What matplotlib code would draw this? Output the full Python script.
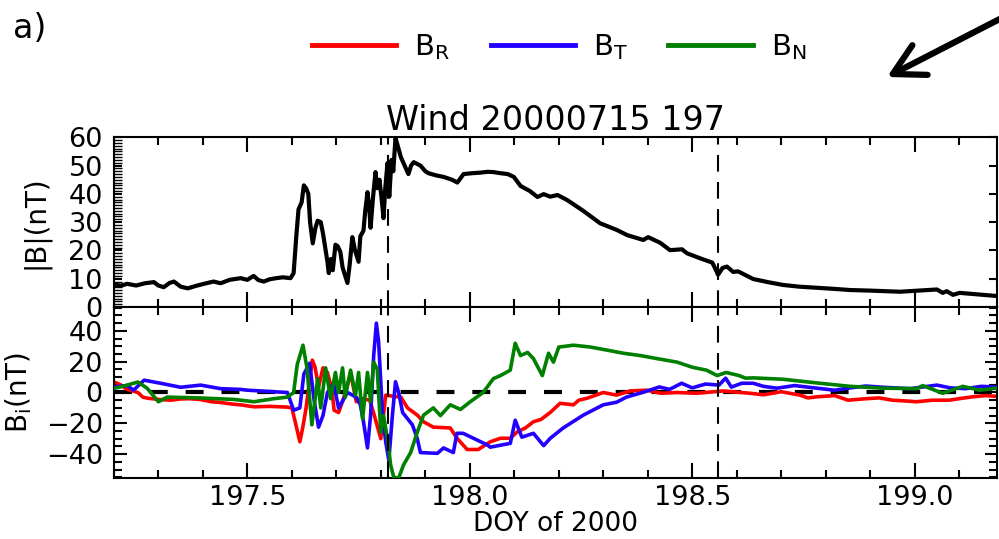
import matplotlib
matplotlib.use("Agg")
import matplotlib.pyplot as plt
from matplotlib.ticker import MultipleLocator
from matplotlib.lines import Line2D
from matplotlib.patches import FancyArrowPatch

plt.rcParams['font.family'] = ['DejaVu Sans']
plt.rcParams['mathtext.fontset'] = 'dejavusans'
plt.rcParams['mathtext.default'] = 'regular'

# |B| (DOY, nT)
t_b = [197.200, 197.215, 197.230, 197.250, 197.270, 197.290, 197.300, 197.312, 197.325, 197.335,
       197.350, 197.366, 197.385, 197.405, 197.424, 197.440, 197.460, 197.485, 197.500, 197.514,
       197.525, 197.537, 197.550, 197.565, 197.580, 197.597, 197.604, 197.610, 197.615, 197.622,
       197.627, 197.632, 197.637, 197.641, 197.647, 197.653, 197.658, 197.665, 197.670, 197.676,
       197.680, 197.683, 197.688, 197.692, 197.698, 197.703, 197.709, 197.714, 197.720, 197.725,
       197.730, 197.736, 197.742, 197.750, 197.754, 197.761, 197.765, 197.770, 197.774, 197.777,
       197.782, 197.788, 197.792, 197.797, 197.802, 197.806, 197.810, 197.815, 197.819, 197.824,
       197.828, 197.833, 197.838, 197.845, 197.855, 197.862, 197.868, 197.874, 197.889, 197.900,
       197.907, 197.925, 197.941, 197.960, 197.972, 197.986, 198.005, 198.024, 198.040, 198.053,
       198.069, 198.085, 198.099, 198.114, 198.135, 198.152, 198.166, 198.181, 198.197, 198.219,
       198.255, 198.293, 198.331, 198.354, 198.390, 198.401, 198.428, 198.450, 198.477, 198.488,
       198.518, 198.545, 198.552, 198.558, 198.568, 198.578, 198.592, 198.603, 198.637, 198.670,
       198.704, 198.740, 198.780, 198.820, 198.855, 198.900, 198.967, 199.010, 199.050, 199.063,
       199.072, 199.086, 199.101, 199.140, 199.184]
b_mag = [8.0, 7.5, 8.2, 7.6, 8.4, 8.8, 7.6, 7.0, 8.5, 9.0,
         7.2, 6.6, 7.5, 8.3, 9.0, 8.4, 9.6, 10.2, 9.6, 11.0,
         9.5, 9.0, 9.8, 10.2, 10.5, 10.2, 12.0, 25.0, 34.5, 37.0,
         43.0, 42.0, 40.0, 30.0, 22.5, 28.0, 30.5, 30.0, 26.0, 20.0,
         16.0, 12.0, 17.0, 13.0, 22.0, 21.5, 19.5, 14.0, 11.0, 8.5,
         15.0, 24.7, 20.0, 16.0, 25.0, 27.0, 34.0, 40.6, 35.0, 28.0,
         38.0, 47.7, 42.0, 45.0, 38.0, 31.4, 42.0, 50.9, 39.0, 52.0,
         48.0, 59.7, 57.0, 53.0, 49.5, 47.0, 50.0, 51.2, 50.0, 48.0,
         47.3, 46.5, 46.0, 45.0, 44.0, 47.0, 47.3, 47.5, 47.8, 47.7,
         47.3, 47.0, 46.0, 42.8, 41.0, 38.9, 39.9, 39.0, 39.6, 37.8,
         34.0, 29.6, 27.2, 25.4, 23.7, 24.7, 22.7, 20.1, 20.4, 19.0,
         17.2, 15.7, 13.5, 11.4, 13.8, 14.3, 12.4, 12.6, 9.9, 8.8,
         7.8, 7.2, 6.8, 6.4, 6.0, 5.8, 5.4, 5.8, 6.2, 5.0,
         5.6, 4.3, 5.0, 4.5, 3.9]

# B_R (red)
t_r = [197.200, 197.215, 197.230, 197.254, 197.265, 197.276, 197.300, 197.328, 197.350, 197.370,
       197.393, 197.420, 197.440, 197.465, 197.485, 197.515, 197.550, 197.590, 197.600, 197.610,
       197.618, 197.625, 197.632, 197.640, 197.646, 197.652, 197.660, 197.670, 197.680, 197.690,
       197.695, 197.705, 197.715, 197.725, 197.732, 197.745, 197.758, 197.775, 197.784, 197.800,
       197.811, 197.829, 197.845, 197.860, 197.882, 197.896, 197.918, 197.956, 197.971, 197.994,
       198.019, 198.046, 198.069, 198.091, 198.106, 198.125, 198.143, 198.160, 198.181, 198.203,
       198.233, 198.245, 198.264, 198.300, 198.330, 198.360, 198.398, 198.430, 198.466, 198.510,
       198.569, 198.630, 198.660, 198.700, 198.742, 198.760, 198.780, 198.820, 198.850, 198.892,
       198.920, 198.950, 198.980, 199.004, 199.040, 199.078, 199.100, 199.130, 199.160, 199.184]
b_r = [6.9, 5.0, 2.0, 0.0, -3.0, -3.7, -4.5, -5.0, -4.2, -4.0,
       -4.5, -6.0, -6.5, -7.5, -8.0, -9.3, -9.0, -9.5, -10.0, -22.0,
       -32.0, -22.0, -10.0, 8.0, 21.0, 16.6, 3.6, 16.0, 13.0, 2.0,
       -11.5, -13.0, -5.0, 5.0, 12.5, -6.0, -4.0, -5.0, -13.5, -30.0,
       -1.7, -2.5, -3.0, -10.0, -14.7, -19.0, -22.5, -23.0, -29.6, -37.0,
       -37.0, -32.0, -29.7, -29.7, -25.7, -23.0, -19.0, -17.5, -12.9, -7.0,
       -8.0, -5.0, -3.7, 0.0, -1.7, 1.0, 1.5, -0.5, 0.0, -0.5,
       1.0, -0.5, -1.5, 0.5, -1.7, -3.5, -2.8, -2.0, -5.0, -4.0,
       -3.5, -5.0, -5.5, -6.0, -5.0, -5.0, -4.0, -2.8, -2.0, -2.5]

# B_T (blue)
t_t = [197.200, 197.230, 197.244, 197.268, 197.305, 197.350, 197.395, 197.440, 197.485, 197.500,
       197.560, 197.590, 197.604, 197.618, 197.627, 197.640, 197.650, 197.660, 197.670, 197.680,
       197.694, 197.705, 197.725, 197.745, 197.754, 197.761, 197.770, 197.777, 197.784, 197.790,
       197.795, 197.804, 197.811, 197.818, 197.826, 197.833, 197.840, 197.849, 197.860, 197.871,
       197.882, 197.889, 197.927, 197.941, 197.963, 197.971, 197.985, 198.008, 198.039, 198.046,
       198.091, 198.102, 198.117, 198.143, 198.166, 198.181, 198.210, 198.255, 198.300, 198.330,
       198.352, 198.388, 198.426, 198.449, 198.476, 198.500, 198.530, 198.560, 198.575, 198.588,
       198.611, 198.637, 198.660, 198.690, 198.730, 198.780, 198.820, 198.855, 198.890, 198.929,
       198.990, 199.050, 199.080, 199.115, 199.150, 199.184]
b_t = [3.6, 4.5, 1.5, 8.0, 6.0, 3.4, 4.8, 2.5, 2.0, 1.5,
       0.5, 0.0, -11.5, -10.0, 12.0, 19.0, -5.0, -22.5, -15.0, 0.0,
       6.0, -10.0, 0.0, -3.0, -8.0, -19.0, -36.0, -15.0, 24.0, 45.0,
       33.0, -15.0, -32.0, -44.0, -15.0, 7.0, 0.0, -13.0, -17.0, -21.0,
       -30.0, -39.0, -39.5, -36.0, -39.0, -26.5, -26.5, -29.7, -34.0, -35.5,
       -33.0, -18.0, -29.0, -26.5, -34.5, -29.7, -23.0, -14.7, -8.0, -6.3,
       -3.0, 0.0, 3.6, 2.0, 6.0, 3.0, 5.5, 4.8, 9.3, 3.5,
       6.0, 6.0, 4.0, 2.8, 4.5, 2.8, 1.5, 3.0, 4.2, 3.4,
       2.5, 4.8, 3.0, 2.5, 4.0, 3.5]

# B_N (green)
t_n = [197.200, 197.220, 197.254, 197.275, 197.300, 197.320, 197.390, 197.470, 197.515, 197.560,
       197.590, 197.604, 197.612, 197.625, 197.634, 197.645, 197.658, 197.665, 197.676, 197.687,
       197.698, 197.705, 197.714, 197.720, 197.732, 197.743, 197.750, 197.759, 197.770, 197.777,
       197.784, 197.792, 197.800, 197.806, 197.815, 197.822, 197.829, 197.840, 197.851, 197.867,
       197.882, 197.896, 197.918, 197.934, 197.956, 197.979, 198.001, 198.030, 198.053, 198.069,
       198.091, 198.102, 198.114, 198.130, 198.143, 198.163, 198.177, 198.188, 198.200, 198.233,
       198.271, 198.309, 198.345, 198.383, 198.421, 198.466, 198.500, 198.532, 198.556, 198.576,
       198.605, 198.620, 198.637, 198.704, 198.780, 198.855, 198.929, 199.005, 199.018, 199.063,
       199.108, 199.146, 199.184]
b_n = [2.7, 4.0, 6.8, 2.7, -6.0, -3.0, -3.5, -4.5, -6.0, -4.0,
       -3.0, 0.0, 18.0, 30.7, 16.0, -21.0, 9.0, -10.0, 16.0, -4.0,
       13.0, 0.0, 16.0, -3.0, 14.5, -1.7, 13.0, -17.0, 13.0, -6.0,
       19.7, 15.0, -25.7, -15.0, -30.0, -47.0, -55.0, -55.6, -47.0, -39.0,
       -25.7, -14.7, -10.0, -15.0, -8.0, -11.0, -6.0, 0.0, 9.0, 11.0,
       14.5, 32.0, 24.0, 26.0, 22.0, 11.0, 25.5, 19.7, 29.5, 30.7,
       29.5, 27.5, 25.5, 24.0, 22.0, 19.7, 16.4, 14.5, 11.0, 13.0,
       11.0, 9.3, 9.5, 8.6, 6.2, 4.0, 2.8, 2.5, 4.5, -0.5,
       4.0, 1.5, 2.8]

event_times = [197.817, 198.559]
labels = ['$B_R$', '$B_T$', '$B_N$']
colors = ['#ff0000', '#2200ff', '#008000']

fig = plt.figure(figsize=(9.99, 5.39), dpi=100)
ax1 = fig.add_axes([0.114, 0.4304, 0.884, 0.3149])
ax2 = fig.add_axes([0.114, 0.1132, 0.884, 0.3172], sharex=ax1)

ax1.plot(t_b, b_mag, color='k', lw=3)
ax2.axhline(0, color='k', lw=3, ls=(0, (4.3, 4.3)), zorder=1)
ax2.plot(t_r, b_r, color=colors[0], lw=2.6, zorder=2)
ax2.plot(t_t, b_t, color=colors[1], lw=2.6, zorder=3)
ax2.plot(t_n, b_n, color=colors[2], lw=2.6, zorder=4)

for ax in (ax1, ax2):
    for t in event_times:
        ax.axvline(t, color='k', lw=1.5, ls=(0, (8, 5)), zorder=5)
    for s in ax.spines.values():
        s.set_linewidth(1.5)
    ax.xaxis.set_major_locator(MultipleLocator(0.5))
    ax.xaxis.set_minor_locator(MultipleLocator(0.1))
    ax.tick_params(axis='x', which='both', direction='in', top=True, bottom=True, width=1.5)
    ax.tick_params(axis='x', which='major', length=11, pad=5)
    ax.tick_params(axis='x', which='minor', length=5.5)
    ax.tick_params(axis='y', which='both', direction='in', left=True, right=True, width=1.5, pad=8)
    ax.tick_params(labelsize=19.5)

ax1.set_xlim(197.2, 199.185)
ax1.set_ylim(0, 60)
ax1.yaxis.set_major_locator(MultipleLocator(10))
ax1.yaxis.set_minor_locator(MultipleLocator(1))
ax1.tick_params(axis='y', which='major', length=6)
ax1.tick_params(axis='y', which='minor', length=6, width=1.0, right=False)
ax1.tick_params(axis='x', labelbottom=False)
ax1.set_ylabel('|B|(nT)', fontsize=20)
ax1.yaxis.set_label_coords(-0.0725, 0.5)
ax1.set_title('Wind 20000715 197', fontsize=24, pad=2)

ax2.set_ylim(-55.5, 55.5)
ax2.yaxis.set_major_locator(MultipleLocator(20))
ax2.yaxis.set_minor_locator(MultipleLocator(5))
ax2.tick_params(axis='y', which='major', length=9)
ax2.tick_params(axis='y', which='minor', length=5.5)
ax2.set_ylabel('$B_i$(nT)', fontsize=20)
ax2.yaxis.set_label_coords(-0.0906, 0.5)
ax2.set_xlabel('DOY of 2000', fontsize=19, labelpad=0)

handles = [Line2D([], [], color=c, lw=3.5) for c in colors]
fig.legend(handles, labels, loc='center', bbox_to_anchor=(559 / 999, 1 - 47 / 539),
           ncol=3, frameon=False, fontsize=21, handlelength=2.9, handletextpad=0.6,
           columnspacing=1.4)

fig.text(0.013, 1 - 38 / 539, 'a)', fontsize=24, va='baseline', ha='left')

arrow = FancyArrowPatch(posA=(1025 / 999, 1 - 6 / 539), posB=(887 / 999, 1 - 77 / 539),
                        transform=fig.transFigure, arrowstyle='->,head_length=1.1,head_width=0.6',
                        mutation_scale=20, lw=4.5, color='k', shrinkA=0, shrinkB=0)
fig.add_artist(arrow)

fig.savefig('out.png', dpi=100)
